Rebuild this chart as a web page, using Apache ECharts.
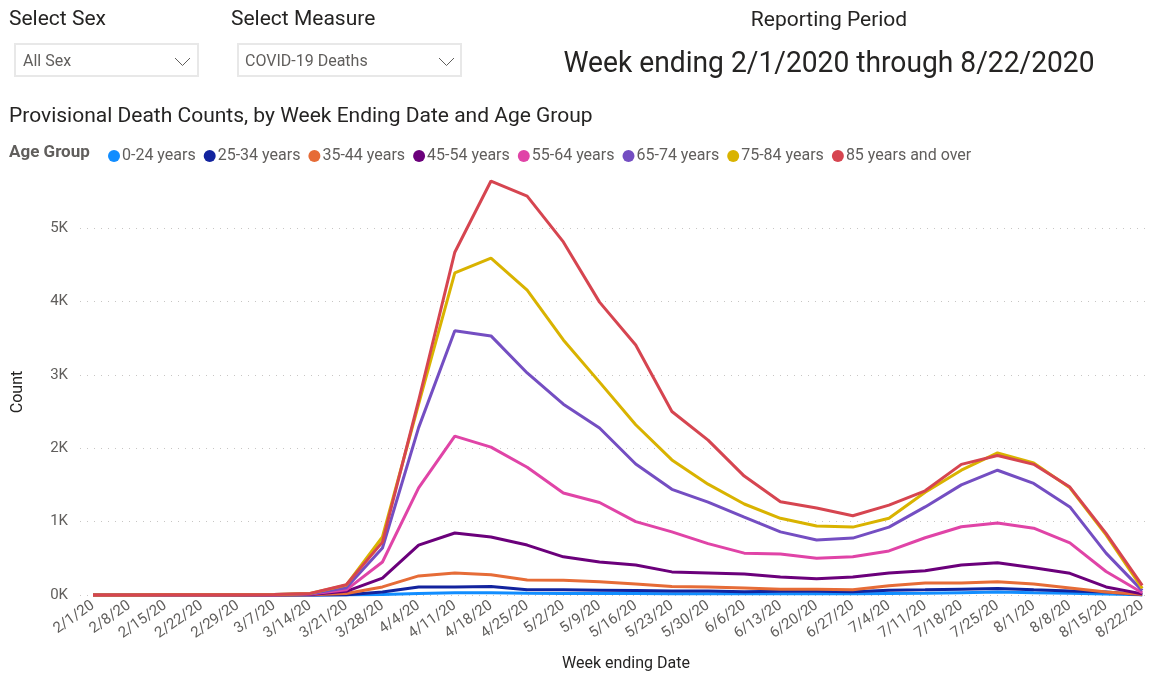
<!DOCTYPE html>
<html>
<head>
<meta charset="utf-8">
<script src="https://cdn.jsdelivr.net/npm/echarts@6/dist/echarts.min.js"></script>
<style>
html,body{margin:0;padding:0;background:#fff;}
#chart{width:1149px;height:674px;}
</style>
</head>
<body>
<div id="chart"></div>
<script>
// ---- data ----
const categories = ['2/1/20','2/8/20','2/15/20','2/22/20','2/29/20','3/7/20','3/14/20','3/21/20','3/28/20','4/4/20','4/11/20','4/18/20','4/25/20','5/2/20','5/9/20','5/16/20','5/23/20','5/30/20','6/6/20','6/13/20','6/20/20','6/27/20','7/4/20','7/11/20','7/18/20','7/25/20','8/1/20','8/8/20','8/15/20','8/22/20'];
const ageGroups = ['0-24 years','25-34 years','35-44 years','45-54 years','55-64 years','65-74 years','75-84 years','85 years and over'];
const age0_24  = [0,0,0,0,0,0,0,2,8,20,30,30,25,22,20,20,18,18,16,18,18,18,22,25,32,40,30,25,15,3];
const age25_34 = [0,0,0,0,0,0,1,5,40,110,110,115,70,70,65,60,55,55,45,50,50,45,65,70,80,90,70,55,40,5];
const age35_44 = [0,0,0,0,0,1,3,20,110,260,300,275,205,200,180,150,115,110,95,80,80,70,125,165,165,180,150,95,40,8];
const age45_54 = [0,0,0,0,1,2,6,50,230,680,845,790,680,520,450,410,315,300,285,245,220,245,300,330,410,440,370,295,110,15];
const age55_64 = [0,0,1,1,2,4,12,70,450,1460,2165,2015,1740,1390,1260,1000,860,700,570,560,500,520,600,780,930,980,910,710,320,30];
const age65_74 = [0,0,1,2,3,6,18,100,640,2280,3600,3530,3025,2600,2275,1785,1440,1265,1060,860,750,775,925,1200,1500,1700,1520,1200,570,60];
const age75_84 = [1,1,2,3,5,8,22,135,790,2600,4390,4590,4155,3475,2900,2320,1840,1510,1240,1045,940,925,1045,1400,1700,1935,1800,1460,820,90];
const age85plus = [1,1,2,3,5,8,22,140,720,2650,4670,5640,5435,4810,3990,3405,2500,2110,1620,1270,1185,1080,1225,1420,1780,1900,1780,1470,840,130];
const yTicks = [0,1000,2000,3000,4000,5000];
// ---- styles ----
const seriesValues = [age0_24, age25_34, age35_44, age45_54, age55_64, age65_74, age75_84, age85plus];
const palette = ['#118DFF','#12239E','#E66C37','#6B007B','#E044A7','#744EC2','#D9B300','#D64550'];
const FONT = 'Roboto, "Noto Sans", sans-serif';
const DARK = '#252423', GREY = '#605E5C';

const chart = echarts.init(document.getElementById('chart'), null, {renderer:'canvas'});

const gridTop = 154.6, gridBottom = 79;

const option = {
  animation: false,
  backgroundColor: '#ffffff',
  textStyle: {fontFamily: FONT},
  grid: [
    {left: 80, right: 0, top: gridTop, bottom: gridBottom, containLabel: false},
    {left: 93, right: 1, top: gridTop, bottom: gridBottom, containLabel: false}
  ],
  legend: {
    data: ageGroups,
    left: 103, top: 143,
    icon: 'circle', itemWidth: 12, itemHeight: 12, itemGap: 8,
    textStyle: {fontFamily: FONT, fontSize: 16, color: GREY, padding: [0,0,0,-3]},
    selectedMode: false
  },
  xAxis: [
    {gridIndex: 0, type: 'value', min: 0, max: 1, show: false},
    {gridIndex: 1, type: 'category', data: categories, boundaryGap: false,
     axisLine: {show: false}, axisTick: {show: false},
     axisLabel: {rotate: 35, interval: 0, margin: 9, fontFamily: FONT, fontSize: 15, color: GREY},
     splitLine: {show: false}}
  ],
  yAxis: [
    {gridIndex: 0, type: 'value', min: 0, max: 6000, interval: 1000,
     axisLine: {show: false}, axisTick: {show: false},
     axisLabel: {margin: 12, fontFamily: FONT, fontSize: 15, color: GREY,
       formatter: v => yTicks.indexOf(v) >= 0 ? (v/1000) + 'K' : ''},
     splitLine: {show: true, lineStyle: {color: ['#C8C6C4','#C8C6C4','#C8C6C4','#C8C6C4','#C8C6C4','#C8C6C4','rgba(0,0,0,0)'], width: 1, type: [1, 6]}}},
    {gridIndex: 1, type: 'value', min: 0, max: 6000, interval: 1000, show: false, splitLine: {show: false}}
  ],
  series: ageGroups.map((name, i) => ({
    name, type: 'line', xAxisIndex: 1, yAxisIndex: 1,
    data: seriesValues[i], symbol: 'none', showSymbol: false, clip: false,
    lineStyle: {width: 3, color: palette[i]}, itemStyle: {color: palette[i]},
    emphasis: {disabled: true}
  })),
  graphic: [
    {type: 'text', x: 9, y: 20, style: {text: 'Select Sex', font: '21px ' + FONT, fill: DARK, textVerticalAlign: 'middle'}},
    {type: 'text', x: 231, y: 20, style: {text: 'Select Measure', font: '21px ' + FONT, fill: DARK, textVerticalAlign: 'middle'}},
    {type: 'rect', shape: {x: 15, y: 44, width: 183, height: 32}, style: {fill: '#fff', stroke: '#E8E8E8', lineWidth: 2}},
    {type: 'text', x: 23, y: 62, style: {text: 'All Sex', font: '16px ' + FONT, fill: GREY, textVerticalAlign: 'middle'}},
    {type: 'polyline', shape: {points: [[175,58],[182.5,65.5],[190,58]]}, style: {stroke: GREY, lineWidth: 1, fill: null}},
    {type: 'rect', shape: {x: 238, y: 44, width: 223, height: 32}, style: {fill: '#fff', stroke: '#E8E8E8', lineWidth: 2}},
    {type: 'text', x: 245, y: 62, style: {text: 'COVID-19 Deaths', font: '16px ' + FONT, fill: GREY, textVerticalAlign: 'middle'}},
    {type: 'polyline', shape: {points: [[439,58],[446.5,65.5],[454,58]]}, style: {stroke: GREY, lineWidth: 1, fill: null}},
    {type: 'text', x: 829, y: 21, style: {text: 'Reporting Period', font: '21px ' + FONT, fill: DARK, textAlign: 'center', textVerticalAlign: 'middle'}},
    {type: 'text', x: 829, y: 64, scaleX: 0.94, style: {text: 'Week ending 2/1/2020 through 8/22/2020', font: '30px ' + FONT, fill: DARK, textAlign: 'center', textVerticalAlign: 'middle'}},
    {type: 'text', x: 9, y: 117, style: {text: 'Provisional Death Counts, by Week Ending Date and Age Group', font: '21px ' + FONT, fill: DARK, textVerticalAlign: 'middle'}},
    {type: 'text', x: 9, y: 153, style: {text: 'Age Group', font: 'bold 17px ' + FONT, fill: GREY, textVerticalAlign: 'middle'}},
    {type: 'text', x: 18, y: 392, rotation: Math.PI/2, style: {text: 'Count', font: '16px ' + FONT, fill: DARK, textAlign: 'center', textVerticalAlign: 'middle'}},
    {type: 'text', x: 626, y: 664, style: {text: 'Week ending Date', font: '16px ' + FONT, fill: DARK, textAlign: 'center', textVerticalAlign: 'middle'}}
  ]
};
chart.setOption(option);
</script>
</body>
</html>
